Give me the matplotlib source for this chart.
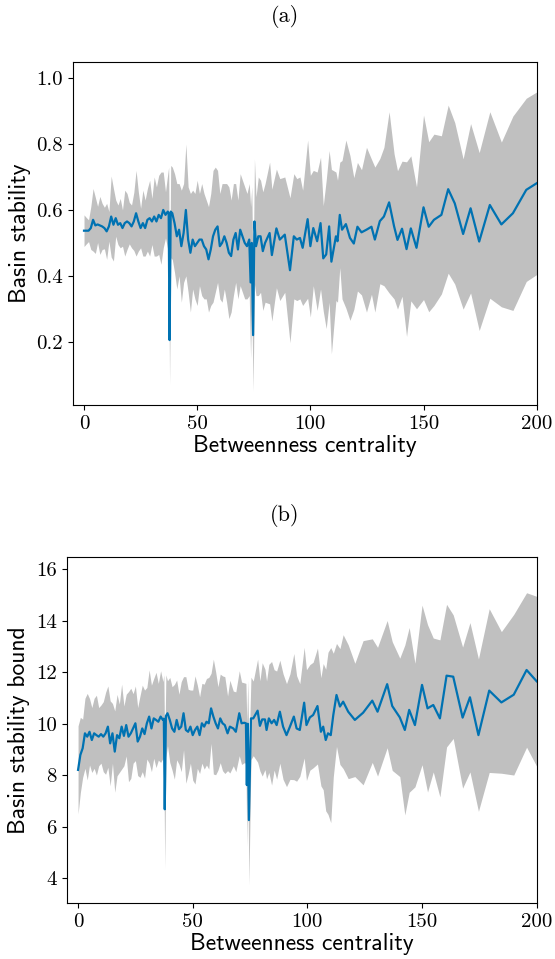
import numpy as np
import matplotlib.pyplot as plt

# ---- panel (a): basin stability vs betweenness centrality (mean and std)
x_a = [0, 1, 2, 3, 4, 5, 6, 7, 8, 9, 10, 11, 12, 13, 14, 15, 16, 17, 18, 19,
       20, 21, 22, 23, 24, 25, 26, 27, 28, 29, 30, 31, 32, 33, 34, 35, 36, 37,
       37.4, 37.8, 38.3,
       39, 40, 41, 42, 43, 44, 45, 46, 47, 48, 49, 50, 51, 52, 53, 54, 55, 56,
       57, 58, 59, 60, 61, 62, 63, 64,
       65, 66, 67, 68, 69, 70, 71, 72, 73, 73.6, 74.1, 74.7, 75.3, 76, 77, 78, 79, 80,
       82, 83, 85, 86.5, 88.7, 91, 92.7, 94, 95.4, 96.6, 98.8, 100, 101.3, 103,
       104.5, 105.7, 107, 108.3, 109.3, 111.3, 112, 113, 114, 115.7, 117.5, 119.2,
       120.8, 122.6, 124.8, 127, 128.5, 130.7, 132.5, 134.8, 137, 138.5, 140.5,
       142.5, 144.4, 146.9, 150, 152.3, 154.6, 157.9, 160.9, 163.8, 167.5, 170.8,
       174.6, 179.3, 184.4, 189.5, 195.4, 200]
bs_mean = [.537, .537, .537, .545, .57, .553, .556, .553, .55, .545, .535, .55, .58, .555,
           .575, .555, .56, .545, .56, .565, .56, .55, .565, .59, .565, .545, .56, .545,
           .57, .575, .565, .58, .565, .585, .575, .60, .585, .595,
           .59, .205, .595,
           .59, .56, .52, .54, .49, .53, .60, .51, .47, .51, .49, .50, .51, .51, .49, .48,
           .45, .48, .52, .54, .55, .49, .50, .52, .50, .47,
           .46, .51, .53, .48, .54, .52, .50, .49, .51, .38, .50, .22, .565, .49, .52, .52,
           .475, .50,
           .53, .463, .544, .51, .525, .417, .52, .51, .515, .485, .572, .49, .545, .505,
           .56, .453, .465, .55, .443, .52, .505, .585, .54, .557, .515, .498,
           .549, .532, .54, .549, .51, .566, .58, .623, .55, .509, .543,
           .481, .544, .485, .608, .549, .57, .585, .663, .62, .527, .605,
           .504, .615, .556, .59, .661, .681]
bs_std = [.048, .04, .033, .065, .095, .085, .055, .088, .07, .063, .085, .045, .123, .11,
          .055, .06, .075, .055, .10, .085, .063, .065, .088, .13, .09, .06, .10, .085,
          .095, .115, .07, .12, .105, .12, .14, .115, .07, .115,
          .14, .135, .14,
          .14, .15, .16, .14, .17, .15, .20, .16, .18, .15, .16, .19, .14, .17, .16, .15,
          .16, .17, .20, .19, .17, .16, .18, .16, .18, .20,
          .17, .17, .15, .15, .17, .17, .17, .16, .17, .23, .17, .17, .19, .15, .18, .17,
          .18, .18,
          .215, .2, .18, .185, .175, .22, .19, .185, .185, .175, .24, .215, .175, .21,
          .2, .16, .225, .23, .28, .195, .185, .16, .21, .255, .25, .20,
          .195, .19, .25, .205, .22, .19, .21, .275, .22, .21, .205,
          .265, .22, .185, .28, .258, .26, .24, .255, .245, .228, .257,
          .27, .283, .25, .295, .278, .277]

# ---- panel (b): basin stability bound vs betweenness centrality
x_b = [0, 1, 2, 3, 4, 5, 6, 7, 8, 9, 10, 11, 12, 13, 14, 15, 16, 17, 18, 19,
       20, 21, 22, 23, 24, 25, 26, 27, 28, 29, 30, 31, 32, 33, 34, 35, 36, 37,
       37.4, 37.8, 38.3,
       39, 40, 41, 42, 43, 44, 45, 46, 47, 48, 49, 50, 51, 52, 53, 54, 55, 56,
       57, 58, 59, 60, 61, 62, 63, 64,
       65.2, 66.2, 67.7, 68.8, 70.3, 71.3, 72.5, 73.2, 73.6, 74.0, 74.5, 75.4, 76.4,
       78.3, 79.3, 80.3, 81.5, 82.2, 83.2, 84.4, 85.5, 86.6, 88, 89.4, 90.9, 92.4,
       94.1, 95.3, 96.7, 98.6, 99.6, 101.1, 102.5, 104.4, 105.9, 106.9, 108, 109,
       110.2, 111.3, 112.7, 114.2, 115.6, 117.8, 120.7, 124.3, 128.3, 130.6, 134.8,
       137, 140.3, 142.5, 144.4, 146.9, 150, 152.4, 154.9, 157.8, 160.7, 163.6,
       167.7, 170.9, 174.6, 179.3, 184.6, 190, 195.6, 200]
bound_mean = [8.21, 8.79, 9.05, 9.63, 9.50, 9.69, 9.37, 9.63, 9.56, 9.50, 9.60, 9.50,
              9.63, 9.89, 9.24, 9.63, 8.92, 9.56, 9.44, 9.89, 9.53, 9.95, 9.50, 9.63,
              9.82, 10.02, 9.31, 9.50, 9.82, 9.60, 10.02, 10.28, 9.82, 10.21, 10.15,
              10.08, 10.28, 10.15,
              10.2, 6.68, 10.3,
              10.41, 10.15, 9.82, 9.69, 10.15, 9.79, 9.89, 10.41, 9.76, 9.69, 9.89, 9.56,
              9.76, 9.89, 9.56, 10.02, 9.89, 10.08, 10.02, 10.60, 10.28, 10.02, 9.82,
              10.21, 10.02, 9.95,
              9.63, 9.89, 9.82, 9.69, 10.41, 10.02, 10.04, 10.02, 7.62, 10.0, 6.26, 10.21,
              10.21, 10.51, 9.92, 10.17, 10.17, 9.76, 10.21, 10.02, 10.15, 9.95, 10.47,
              9.89, 9.56, 9.89, 10.28, 9.82, 9.76, 10.82, 9.95, 10.25, 10.34, 10.69,
              9.69, 9.89, 9.37, 9.63, 9.56, 10.34, 11.12, 10.67, 10.86, 10.47, 10.15,
              10.43, 10.9, 10.47, 11.54, 10.69, 10.25, 9.76, 10.54, 9.95, 11.51, 10.60,
              10.73, 10.21, 11.87, 11.83, 10.24, 11.03, 9.56, 11.29, 10.83, 11.13,
              12.09, 11.65]
bound_std = [1.71, 1.46, 1.13, 1.36, 1.68, 1.29, 1.26, 1.36, 1.55, 1.13, 1.13, 1.36,
             1.59, 1.58, 1.65, 1.16, 1.58, 1.58, 1.33, 1.65, 1.16, 1.2, 1.75, 1.75,
             1.35, 1.45, 1.32, 1.58, 1.68, 1.71, 1.39, 1.81, 1.68, 1.55, 1.85, 1.49,
             1.78, 1.49,
             1.7, 2.29, 1.6,
             1.26, 1.65, 1.62, 1.84, 1.55, 1.36, 1.75, 1.42, 2.07, 1.65, 1.42, 1.75,
             2.1, 1.62, 1.49, 1.55, 1.65, 1.68, 1.78, 1.36, 2.23, 2.0, 1.62, 1.72,
             1.84, 1.88,
             1.45, 1.8, 1.45, 1.55, 1.65, 1.6, 1.55, 1.55, 2.39, 1.7, 2.52, 1.6, 1.45,
             2.0, 1.75, 2.2, 1.95, 1.9, 2.1, 2.4, 1.95, 2.1, 2.0, 2.05, 2.0, 2.05,
             2.45, 2.05, 1.8, 2.15, 2.15, 2.05, 2.05, 2.25, 2.1, 2.45, 2.75, 3.15,
             3.4, 2.4, 2.0, 2.25, 2.6, 2.6, 2.2, 2.8, 2.4, 2.5, 2.47,
             2.5, 2.3, 3.3, 3.2, 2.4, 3.1, 3.25, 2.6, 3.05, 2.77, 2.4,
             2.74, 2.9, 2.96, 3.18, 2.75, 3.12, 3.0, 3.3]

x_ticks = [0, 50, 100, 150, 200]
y_ticks_a = [0.2, 0.4, 0.6, 0.8, 1.0]
y_ticks_b = [4, 6, 8, 10, 12, 14, 16]

line_col = '#0072b2'
band_col = '#c0c0c0'


def draw_panel(ax, x, m, s, ylabel, yticks, ylabels, ylim):
    x = np.array(x)
    m = np.array(m)
    s = np.array(s)
    ax.fill_between(x, m - s, m + s, color=band_col, lw=0)
    ax.plot(x, m, color=line_col, lw=1.6)
    ax.set_xlim(-5, 200)
    ax.set_ylim(*ylim)
    ax.set_xticks(x_ticks)
    ax.set_xticklabels([str(t) for t in x_ticks], fontfamily='cmr10', fontsize=15)
    ax.set_yticks(yticks)
    ax.set_yticklabels(ylabels, fontfamily='cmr10', fontsize=15)
    ax.set_xlabel('Betweenness centrality', fontfamily='cmss10', fontsize=17, labelpad=2)
    ax.set_ylabel(ylabel, fontfamily='cmss10', fontsize=17)


fig = plt.figure(figsize=(5.55, 9.59), dpi=100)
ax1 = fig.add_axes([0.131, 0.5777, 0.836, 0.358])
ax2 = fig.add_axes([0.120, 0.0584, 0.847, 0.3611])

draw_panel(ax1, x_a, bs_mean, bs_std, 'Basin stability',
           y_ticks_a, ['%.1f' % t for t in y_ticks_a], (0.008, 1.05))
draw_panel(ax2, x_b, bound_mean, bound_std, 'Basin stability bound',
           y_ticks_b, [str(t) for t in y_ticks_b], (3.04, 16.49))

fig.text(0.5135, 0.983, '(a)', ha='center', va='center', fontfamily='cmr10', fontsize=16)
fig.text(0.5135, 0.4627, '(b)', ha='center', va='center', fontfamily='cmr10', fontsize=16)

fig.savefig('out.png', dpi=100)
